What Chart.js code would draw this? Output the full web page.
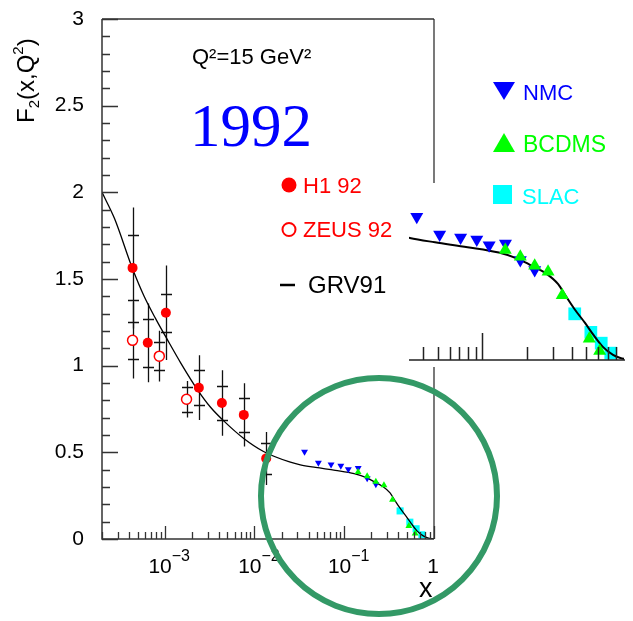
<!DOCTYPE html>
<html><head><meta charset="utf-8">
<script src="https://cdn.jsdelivr.net/npm/chart.js@4.4.0/dist/chart.umd.min.js"></script>
<style>
html,body{margin:0;padding:0;background:#fff;}
#wrap{position:relative;width:633px;height:621px;overflow:hidden;}
#main{position:absolute;left:0;top:0;}
#inset{position:absolute;left:400px;top:180px;}
</style></head><body>
<div id="wrap"><canvas id="main" width="633" height="621"></canvas><canvas id="inset" width="233" height="190"></canvas></div>
<script>
// ---- data ----
const grvX = [2.0e-4, 2.75e-4, 4.37e-4, 5.89e-4, 7.94e-4, 1.07e-3, 1.51e-3, 2.29e-3, 3.24e-3, 4.57e-3, 7.59e-3, 0.0126, 0.0251, 0.0324, 0.0479, 0.0794, 0.129, 0.174, 0.209, 0.269, 0.324, 0.363, 0.417, 0.490, 0.562, 0.646, 0.759, 0.851, 1.0];
const grvY = [2.00, 1.85, 1.56, 1.40, 1.27, 1.15, 1.015, 0.865, 0.76, 0.68, 0.58, 0.505, 0.443, 0.428, 0.413, 0.396, 0.377, 0.355, 0.334, 0.303, 0.266, 0.226, 0.179, 0.131, 0.087, 0.047, 0.018, 0.007, 0.0];

const h1X    = [4.38e-4, 6.47e-4, 1.03e-3, 2.40e-3, 4.33e-3, 7.6e-3, 1.35e-2];
const h1Y    = [1.564, 1.132, 1.305, 0.873, 0.785, 0.716, 0.465];
const h1Stat = [0.188, 0.139, 0.110, 0.100, 0.099, 0.099, 0.088];
const h1Tot  = [0.349, 0.227, 0.273, 0.187, 0.189, 0.183, 0.153];

const zeusX    = [4.38e-4, 8.7e-4, 1.75e-3];
const zeusY    = [1.146, 1.055, 0.806];
const zeusStat = [0.108, 0.079, 0.072];
const zeusTot  = [0.220, 0.146, 0.105];

const nmcX = [0.0361, 0.0515, 0.0713, 0.0916, 0.111, 0.143, 0.180, 0.225];
const nmcY = [0.503, 0.440, 0.430, 0.423, 0.403, 0.409, 0.351, 0.316];
const bcdmsX = [0.1426, 0.180, 0.225, 0.277, 0.345, 0.525, 0.617];
const bcdmsY = [0.386, 0.362, 0.331, 0.310, 0.227, 0.075, 0.032];
const slacX = [0.419, 0.538, 0.632, 0.733];
const slacY = [0.162, 0.097, 0.059, 0.024];

const yTicks = [0, 0.5, 1, 1.5, 2, 2.5, 3];
const yTickLabels = ['0', '0.5', '1', '1.5', '2', '2.5', '3'];
const xTicks = [1e-3, 1e-2, 1e-1, 1];
const xTickBase = ['10', '10', '10', '1'];
const xTickExp = ['\u22123', '\u22122', '\u22121', ''];
const insetMajor = [0.1];

const pts = (xs, ys) => xs.map((x, i) => ({x: x, y: ys[i]}));
const SANS = "'Liberation Sans', Arial, Helvetica, sans-serif";
const AXIS = '#333';

const mainDecor = {
  id: 'mainDecor',
  beforeDatasetsDraw(chart) {
    const ctx = chart.ctx, xs = chart.scales.x, ys = chart.scales.y;
    ctx.save();
    ctx.strokeStyle = '#111'; ctx.lineWidth = 1.3;
    const bars = [[h1X, h1Y, h1Stat, h1Tot], [zeusX, zeusY, zeusStat, zeusTot]];
    bars.forEach(([X, Y, S, T]) => {
      X.forEach((xv, i) => {
        const px = Math.round(xs.getPixelForValue(xv)) + 0.5;
        ctx.beginPath();
        ctx.moveTo(px, ys.getPixelForValue(Y[i] + T[i]));
        ctx.lineTo(px, ys.getPixelForValue(Y[i] - T[i]));
        [Y[i] + S[i], Y[i] - S[i]].forEach(v => {
          const py = Math.round(ys.getPixelForValue(v)) + 0.5;
          ctx.moveTo(px - 5.5, py); ctx.lineTo(px + 5.5, py);
        });
        ctx.stroke();
      });
    });
    ctx.restore();
  },
  afterDraw(chart) {
    const ctx = chart.ctx, xs = chart.scales.x, ys = chart.scales.y, a = chart.chartArea;
    ctx.save();
    // frame
    ctx.strokeStyle = AXIS; ctx.lineWidth = 1.5;
    ctx.beginPath();
    ctx.moveTo(a.left, a.top); ctx.lineTo(a.left, a.bottom); ctx.lineTo(a.right, a.bottom);
    ctx.moveTo(a.left, a.top); ctx.lineTo(a.right, a.top);
    ctx.stroke();
    ctx.lineWidth = 1.2; ctx.strokeStyle = '#222';
    ctx.beginPath();
    ctx.moveTo(a.right, a.top); ctx.lineTo(a.right, 183);
    ctx.moveTo(a.right, 367); ctx.lineTo(a.right, a.bottom);
    ctx.stroke();
    // y ticks
    ctx.strokeStyle = AXIS; ctx.lineWidth = 1.3;
    ctx.beginPath();
    for (let i = 0; i <= 30; i++) {
      const py = Math.round(ys.getPixelForValue(i / 10)) + 0.5;
      const len = (i % 5 === 0) ? 16 : 8;
      ctx.moveTo(a.left, py); ctx.lineTo(a.left + len, py);
    }
    // x ticks
    for (let d = -4; d <= 0; d++) {
      for (let m = 1; m <= 9; m++) {
        const v = m * Math.pow(10, d);
        if (v < xs.min * 0.999 || v > xs.max * 1.001) continue;
        const px = Math.round(xs.getPixelForValue(v)) + 0.5;
        const len = (m === 1) ? 13 : 7;
        ctx.moveTo(px, a.bottom); ctx.lineTo(px, a.bottom - len);
      }
    }
    ctx.stroke();
    // y tick labels
    ctx.fillStyle = '#000';
    ctx.font = '21px ' + SANS;
    ctx.textAlign = 'right'; ctx.textBaseline = 'middle';
    yTicks.forEach((v, i) => ctx.fillText(yTickLabels[i], 84, ys.getPixelForValue(v)));
    // x tick labels
    ctx.textBaseline = 'alphabetic';
    xTicks.forEach((v, i) => {
      const px = xs.getPixelForValue(v);
      ctx.font = '21px ' + SANS;
      if (xTickExp[i]) {
        ctx.textAlign = 'right';
        ctx.fillText(xTickBase[i], px + 7, 573);
        ctx.textAlign = 'left';
        ctx.font = '16px ' + SANS;
        ctx.fillText(xTickExp[i], px + 7, 561);
      } else {
        ctx.textAlign = 'center';
        ctx.fillText(xTickBase[i], px - 1, 573);
      }
    });
    // axis title x
    ctx.font = '27px ' + SANS; ctx.textAlign = 'left';
    ctx.fillText('x', 419, 597);
    // axis title y (rotated)
    ctx.save();
    ctx.translate(34, 123); ctx.rotate(-Math.PI / 2);
    ctx.textAlign = 'left';
    let cx = 0;
    const seg = (t, f, dy) => { ctx.font = f + 'px ' + SANS; ctx.fillText(t, cx, dy); cx += ctx.measureText(t).width; };
    seg('F', 24, 0); seg('2', 15, 5); seg('(x,Q', 24, 0); seg('2', 15, -11); seg(')', 24, 0);
    ctx.restore();
    // annotations
    ctx.textAlign = 'left';
    ctx.font = '22px ' + SANS;
    ctx.fillText('Q\u00B2=15 GeV\u00B2', 192, 64);
    ctx.fillStyle = '#0000ff';
    ctx.font = "61px 'Liberation Serif', 'Times New Roman', serif";
    ctx.fillText('1992', 190, 146);
    // left legend
    ctx.fillStyle = '#ff0000';
    ctx.beginPath(); ctx.arc(289, 185, 7.5, 0, Math.PI * 2); ctx.fill();
    ctx.strokeStyle = '#ff0000'; ctx.lineWidth = 2;
    ctx.beginPath(); ctx.arc(289, 229.5, 6.5, 0, Math.PI * 2); ctx.stroke();
    ctx.font = '22px ' + SANS;
    ctx.fillText('H1 92', 303, 193);
    ctx.fillText('ZEUS 92', 303, 237);
    ctx.strokeStyle = '#000'; ctx.lineWidth = 2.5;
    ctx.beginPath(); ctx.moveTo(280, 285); ctx.lineTo(295, 285); ctx.stroke();
    ctx.fillStyle = '#000'; ctx.font = '24px ' + SANS;
    ctx.fillText('GRV91', 308, 293);
    // right legend
    ctx.fillStyle = '#0000ff';
    ctx.beginPath(); ctx.moveTo(493, 82); ctx.lineTo(515, 82); ctx.lineTo(504, 100); ctx.closePath(); ctx.fill();
    ctx.font = '22px ' + SANS; ctx.fillText('NMC', 523, 100);
    ctx.fillStyle = '#00ff00';
    ctx.beginPath(); ctx.moveTo(493, 152); ctx.lineTo(515, 152); ctx.lineTo(504, 133); ctx.closePath(); ctx.fill();
    ctx.font = '23px ' + SANS; ctx.fillText('BCDMS', 523, 152);
    ctx.fillStyle = '#00ffff';
    ctx.fillRect(493, 185, 19, 19);
    ctx.font = '22px ' + SANS; ctx.fillText('SLAC', 522, 204);
    // green circle
    ctx.strokeStyle = '#339966'; ctx.lineWidth = 6;
    ctx.beginPath(); ctx.arc(379, 496, 118, 0, Math.PI * 2); ctx.stroke();
    ctx.restore();
  }
};

new Chart(document.getElementById('main'), {
  type: 'scatter',
  data: { datasets: [
    {label: 'H1 92', data: pts(h1X, h1Y), pointStyle: 'circle', pointRadius: 5, backgroundColor: '#ff0000', borderColor: '#ff0000', borderWidth: 0, order: 0},
    {label: 'ZEUS 92', data: pts(zeusX, zeusY), pointStyle: 'circle', pointRadius: 5, backgroundColor: '#ffffff', borderColor: '#ff0000', borderWidth: 1.5, order: 0},
    {label: 'BCDMS', data: pts(bcdmsX, bcdmsY), pointStyle: 'triangle', pointRadius: 4, backgroundColor: '#00ff00', borderWidth: 0, order: 1},
    {label: 'NMC', data: pts(nmcX, nmcY), pointStyle: 'triangle', pointRotation: 180, pointRadius: 4, backgroundColor: '#0000ff', borderWidth: 0, order: 2},
    {label: 'GRV91', data: pts(grvX, grvY), showLine: true, borderColor: '#000', borderWidth: 1.3, pointRadius: 0, fill: false, cubicInterpolationMode: 'monotone', order: 3},
    {label: 'SLAC', data: pts(slacX, slacY), pointStyle: 'rect', pointRadius: 5, backgroundColor: '#00ffff', borderWidth: 0, order: 4}
  ]},
  options: {
    responsive: false, animation: false, events: [],
    layout: {padding: {left: 102, right: 199, top: 19, bottom: 82}},
    plugins: {legend: {display: false}, tooltip: {enabled: false}},
    scales: {
      x: {type: 'logarithmic', min: 2e-4, max: 1, display: false},
      y: {type: 'linear', min: 0, max: 3, display: false}
    }
  },
  plugins: [mainDecor]
});

const insetDecor = {
  id: 'insetDecor',
  afterDraw(chart) {
    const ctx = chart.ctx, xs = chart.scales.x, a = chart.chartArea;
    ctx.save();
    ctx.strokeStyle = '#222'; ctx.lineWidth = 1.5;
    ctx.beginPath();
    ctx.moveTo(a.left, a.bottom); ctx.lineTo(a.right + 1, a.bottom);
    for (let d = -2; d <= -1; d++) {
      for (let m = 1; m <= 9; m++) {
        const v = m * Math.pow(10, d);
        if (v < xs.min || v > xs.max * 0.97) continue;
        const px = Math.round(xs.getPixelForValue(v)) + 0.5;
        const len = insetMajor.includes(Math.round(v * 1000) / 1000) ? 27 : 13;
        ctx.moveTo(px, a.bottom); ctx.lineTo(px, a.bottom - len);
      }
    }
    ctx.stroke();
    ctx.restore();
  }
};

new Chart(document.getElementById('inset'), {
  type: 'scatter',
  data: { datasets: [
    {label: 'BCDMS', data: pts(bcdmsX, bcdmsY), pointStyle: 'triangle', pointRadius: 7.5, backgroundColor: '#00ff00', borderWidth: 0, order: 1},
    {label: 'NMC', data: pts(nmcX, nmcY), pointStyle: 'triangle', pointRotation: 180, pointRadius: 7.5, backgroundColor: '#0000ff', borderWidth: 0, order: 2},
    {label: 'GRV91', data: pts(grvX, grvY), showLine: true, borderColor: '#000', borderWidth: 2, pointRadius: 0, fill: false, cubicInterpolationMode: 'monotone', order: 3},
    {label: 'SLAC', data: pts(slacX, slacY), pointStyle: 'rect', pointRadius: 9, backgroundColor: '#00ffff', borderWidth: 0, order: 4}
  ]},
  options: {
    responsive: false, animation: false, events: [],
    layout: {padding: {left: 6, right: 1, top: 6, bottom: 10}},
    plugins: {legend: {display: false}, tooltip: {enabled: false}},
    scales: {
      x: {type: 'logarithmic', min: 0.032, max: 0.9, display: false},
      y: {type: 'linear', min: 0, max: 0.6, display: false}
    }
  },
  plugins: [insetDecor]
});
</script>
</body></html>
